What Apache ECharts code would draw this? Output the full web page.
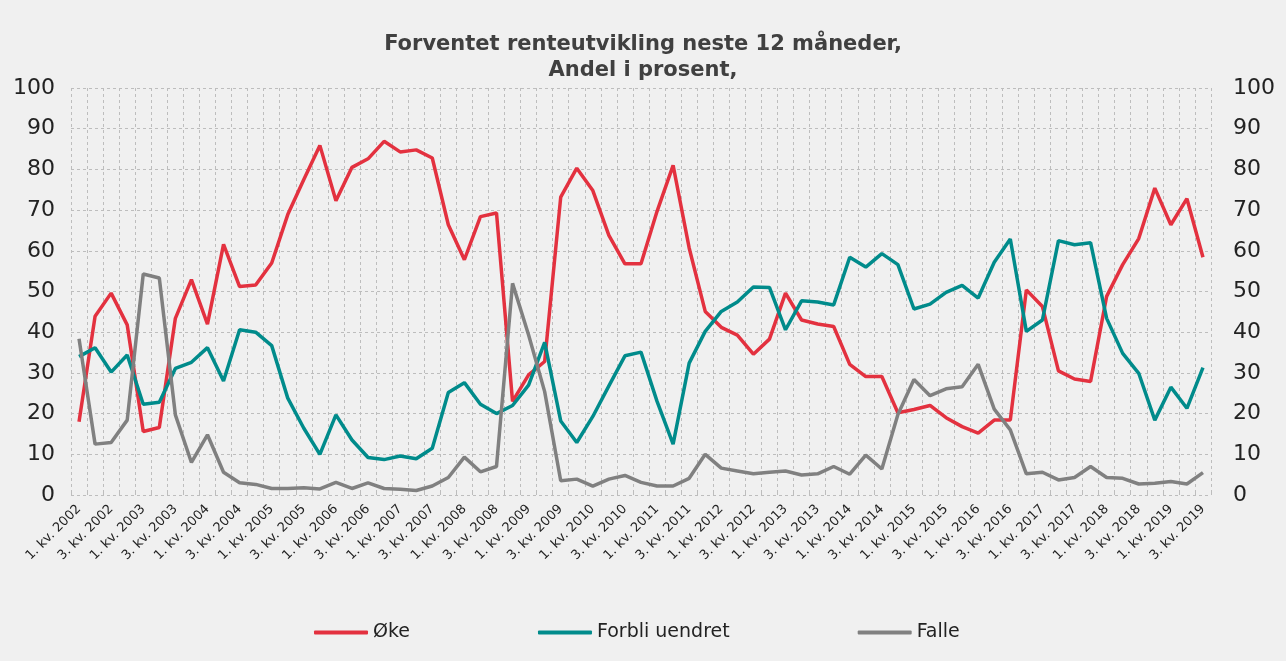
<!DOCTYPE html>
<html>
<head>
    <meta charset="utf-8">
    <title>Forventet renteutvikling</title>
    <script src="https://cdn.jsdelivr.net/npm/echarts@6/dist/echarts.min.js"></script>
    <style>
        html, body { margin: 0; padding: 0; background: #f0f0f0; }
        #chart { width: 1286px; height: 661px; }
    </style>
</head>
<body>
    <div id="chart"></div>
    <script>
        // quarters 1. kv. 2002 .. 3. kv. 2019
        var years = [];
        for (var y = 2002; y <= 2019; y++) years.push(y);
        var quarters = [];
        years.forEach(function (y) {
            [1, 2, 3, 4].forEach(function (q) {
                if (y === 2019 && q > 3) return;
                quarters.push(q + '. kv. ' + y);
            });
        });

        var oke = [18.0, 43.9, 49.6, 41.8, 15.6, 16.6, 43.4, 52.9, 42.0, 61.6,
                   51.2, 51.6, 57.0, 68.9, 77.5, 85.9, 72.3, 80.5, 82.6, 86.9,
                   84.3, 84.8, 82.8, 66.4, 57.8, 68.4, 69.3, 23.0, 29.5, 32.8,
                   73.2, 80.3, 74.8, 63.8, 56.8, 56.8, 69.7, 81.0, 60.7, 45.1,
                   41.2, 39.3, 34.6, 38.3, 49.6, 43.0, 42.0, 41.4, 32.1, 29.1,
                   29.1, 20.2, 21.0, 22.0, 19.0, 16.8, 15.2, 18.4, 18.4, 50.4,
                   46.3, 30.5, 28.5, 27.9, 48.8, 56.6, 63.0, 75.4, 66.4, 72.8,
                   58.4];
        var forbli = [34.0, 36.2, 30.2, 34.4, 22.3, 22.8, 31.1, 32.6, 36.2, 28.0,
                      40.6, 40.0, 36.7, 23.8, 16.4, 10.0, 19.7, 13.5, 9.2, 8.7,
                      9.6, 8.9, 11.5, 25.2, 27.6, 22.3, 20.0, 22.0, 27.0, 37.5,
                      18.2, 12.9, 19.3, 26.8, 34.2, 35.1, 23.0, 12.5, 32.4, 40.2,
                      45.1, 47.4, 51.1, 51.0, 40.6, 47.7, 47.4, 46.7, 58.4, 56.0,
                      59.3, 56.6, 45.7, 46.9, 49.8, 51.5, 48.4, 57.2, 62.9, 40.2,
                      43.0, 62.5, 61.5, 62.0, 43.4, 34.8, 29.9, 18.4, 26.5, 21.3,
                      31.3];
        var falle = [38.4, 12.5, 12.9, 18.4, 54.3, 53.3, 19.7, 8.0, 14.8, 5.6,
                     3.0, 2.6, 1.6, 1.6, 1.8, 1.5, 3.1, 1.6, 3.0, 1.6,
                     1.4, 1.1, 2.2, 4.3, 9.3, 5.7, 7.0, 52.0, 39.3, 25.4,
                     3.5, 3.9, 2.2, 3.9, 4.8, 3.1, 2.2, 2.2, 4.1, 10.0,
                     6.6, 5.9, 5.2, 5.6, 5.9, 4.9, 5.2, 7.0, 5.1, 9.8,
                     6.4, 19.8, 28.4, 24.4, 26.1, 26.6, 32.1, 21.1, 16.0, 5.2,
                     5.6, 3.7, 4.3, 7.0, 4.3, 4.1, 2.7, 2.9, 3.3, 2.7,
                     5.5];

        var font = 'DejaVu Sans, Verdana, sans-serif';
        var gridDash = { color: '#bdbdbd', type: [3, 3], width: 1 };

        function yAxisDef(pos) {
            return {
                type: 'value', position: pos, min: 0, max: 100, interval: 10,
                axisLine: { show: false }, axisTick: { show: false },
                axisLabel: { fontFamily: font, fontSize: 22, color: '#222', margin: pos === 'left' ? 16 : 22 },
                splitLine: { show: pos === 'left', lineStyle: gridDash }
            };
        }

        function line(name, data, color) {
            return {
                name: name, type: 'line', data: data, symbol: 'none',
                lineStyle: { width: 3.5, color: color }, itemStyle: { color: color }
            };
        }

        var chart = echarts.init(document.getElementById('chart'));
        chart.setOption({
            animation: false,
            backgroundColor: '#f0f0f0',
            title: {
                text: 'Forventet renteutvikling neste 12 måneder,\nAndel i prosent,',
                left: 'center', top: 27,
                textStyle: { fontFamily: font, fontSize: 21, fontWeight: 'bold', color: '#404040', lineHeight: 26 }
            },
            legend: {
                bottom: 14, left: 309, itemWidth: 54, itemHeight: 4, itemGap: 128,
                icon: 'roundRect',
                textStyle: { fontFamily: font, fontSize: 19, color: '#222' },
                data: ['Øke', 'Forbli uendret', 'Falle']
            },
            grid: { left: 71, right: 75, top: 88, bottom: 166 },
            xAxis: {
                type: 'category', data: quarters, boundaryGap: true,
                axisLine: { show: false },
                axisTick: { show: true, interval: 0, inside: true, length: 3, lineStyle: { color: '#bdbdbd' } },
                axisLabel: { interval: 1, rotate: 45, fontFamily: font, fontSize: 13, color: '#222', margin: 12 },
                splitLine: { show: true, interval: 0, lineStyle: gridDash }
            },
            yAxis: [yAxisDef('left'), yAxisDef('right')],
            series: [
                line('Øke', oke, '#e3313f'),
                line('Forbli uendret', forbli, '#008b8b'),
                line('Falle', falle, '#808080')
            ]
        });
    </script>
</body>
</html>
